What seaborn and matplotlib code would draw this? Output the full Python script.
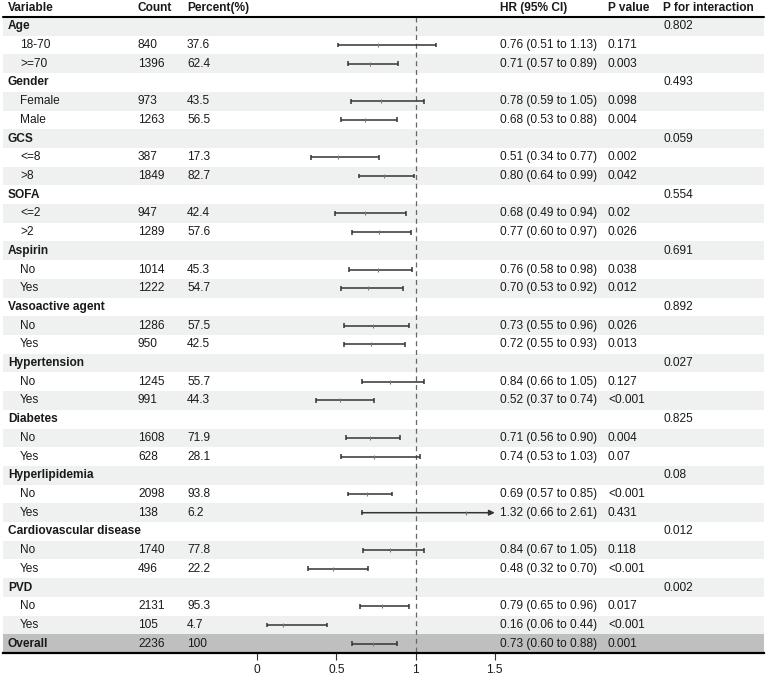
import matplotlib
matplotlib.use("Agg")
import matplotlib.pyplot as plt
import pandas as pd
import seaborn as sns

# subgroup table, one entry per displayed row
groups = ["Age", "Gender", "GCS", "SOFA", "Aspirin", "Vasoactive agent", "Hypertension",
          "Diabetes", "Hyperlipidemia", "Cardiovascular disease", "PVD"]
p_interaction = ["0.802", "0.493", "0.059", "0.554", "0.691", "0.892", "0.027",
                 "0.825", "0.08", "0.012", "0.002"]
levels = [["18-70", ">=70"], ["Female", "Male"], ["<=8", ">8"], ["<=2", ">2"], ["No", "Yes"],
          ["No", "Yes"], ["No", "Yes"], ["No", "Yes"], ["No", "Yes"], ["No", "Yes"], ["No", "Yes"]]
counts = [[840, 1396], [973, 1263], [387, 1849], [947, 1289], [1014, 1222], [1286, 950],
          [1245, 991], [1608, 628], [2098, 138], [1740, 496], [2131, 105]]
percents = [["37.6", "62.4"], ["43.5", "56.5"], ["17.3", "82.7"], ["42.4", "57.6"], ["45.3", "54.7"],
            ["57.5", "42.5"], ["55.7", "44.3"], ["71.9", "28.1"], ["93.8", "6.2"], ["77.8", "22.2"],
            ["95.3", "4.7"]]
hr = [[0.76, 0.71], [0.78, 0.68], [0.51, 0.80], [0.68, 0.77], [0.76, 0.70], [0.73, 0.72],
      [0.84, 0.52], [0.71, 0.74], [0.69, 1.32], [0.84, 0.48], [0.79, 0.16]]
ci_low = [[0.51, 0.57], [0.59, 0.53], [0.34, 0.64], [0.49, 0.60], [0.58, 0.53], [0.55, 0.55],
          [0.66, 0.37], [0.56, 0.53], [0.57, 0.66], [0.67, 0.32], [0.65, 0.06]]
ci_high = [[1.13, 0.89], [1.05, 0.88], [0.77, 0.99], [0.94, 0.97], [0.98, 0.92], [0.96, 0.93],
           [1.05, 0.74], [0.90, 1.03], [0.85, 2.61], [1.05, 0.70], [0.96, 0.44]]
p_values = [["0.171", "0.003"], ["0.098", "0.004"], ["0.002", "0.042"], ["0.02", "0.026"],
            ["0.038", "0.012"], ["0.026", "0.013"], ["0.127", "<0.001"], ["0.004", "0.07"],
            ["<0.001", "0.431"], ["0.118", "<0.001"], ["0.017", "<0.001"]]
overall = {"count": 2236, "percent": "100", "hr": 0.73, "lo": 0.60, "hi": 0.88, "p": "0.001"}
x_ticks = [0, 0.5, 1, 1.5]
x_cap = 1.5

rows = []
for i, g in enumerate(groups):
    rows.append(dict(label=g, kind="group", pint=p_interaction[i]))
    for j, lv in enumerate(levels[i]):
        rows.append(dict(label=lv, kind="level", count=counts[i][j], pct=percents[i][j],
                         hr=hr[i][j], lo=ci_low[i][j], hi=ci_high[i][j], p=p_values[i][j]))
rows.append(dict(label="Overall", kind="overall", count=overall["count"], pct=overall["percent"],
                 hr=overall["hr"], lo=overall["lo"], hi=overall["hi"], p=overall["p"]))
df = pd.DataFrame(rows)
df["row"] = range(len(df))

sns.set_theme(style="white")
plt.rcParams["font.family"] = ["Liberation Sans", "DejaVu Sans"]
txt_color = "#1a1a1a"
fs = 8.6

W, H = 767, 675
fig = plt.figure(figsize=(W / 100, H / 100), dpi=100)
ax = fig.add_axes([0, 22 / H, 1, 653 / H])
zero_px, unit_px = 257.3, 158.3
ax.set_xlim(-zero_px / unit_px, (W - zero_px) / unit_px)
n = len(df)
ax.set_ylim(n - 0.5, -0.5 - 17 / 18.7)

tx = ax.get_yaxis_transform()

# row shading
for r in df["row"]:
    if df.loc[r, "kind"] == "overall":
        ax.axhspan(r - 0.5, r + 0.5, xmin=3 / W, xmax=764 / W, color="#bfbfbf", lw=0, zorder=0)
    elif r % 2 == 0:
        ax.axhspan(r - 0.5, r + 0.5, xmin=3 / W, xmax=764 / W, color="#eef1f0", lw=0, zorder=0)

# header
cols = {"Variable": 8, "Count": 138, "Percent(%)": 187, "HR (95% CI)": 500,
        "P value": 608, "P for interaction": 663}
for name, px in cols.items():
    ax.text(px / W, -0.98, name, transform=tx, ha="left", va="center", fontsize=fs,
            fontweight="bold", color=txt_color)
ax.plot([3 / W, 764 / W], [-0.5, -0.5], transform=tx, color="black", lw=1.5, zorder=3)

# reference line
ax.vlines(1, -0.5, n - 0.5, colors="#666666", linestyles=(0, (4, 3)), lw=0.9, zorder=1)

# table text
for _, r in df.iterrows():
    y = r["row"]
    bold = r["kind"] in ("group", "overall")
    ax.text((8 if bold else 20) / W, y, r["label"], transform=tx, ha="left", va="center",
            fontsize=fs, fontweight="bold" if bold else "normal", color=txt_color)
    if r["kind"] == "group":
        ax.text(663 / W, y, r["pint"], transform=tx, ha="left", va="center", fontsize=fs, color=txt_color)
        continue
    ax.text(138 / W, y, f"{int(r['count'])}", transform=tx, ha="left", va="center", fontsize=fs, color=txt_color)
    ax.text(187 / W, y, r["pct"], transform=tx, ha="left", va="center", fontsize=fs, color=txt_color)
    ax.text(500 / W, y, f"{r['hr']:.2f} ({r['lo']:.2f} to {r['hi']:.2f})", transform=tx,
            ha="left", va="center", fontsize=fs, color=txt_color)
    ax.text(608 / W, y, r["p"], transform=tx, ha="left", va="center", fontsize=fs, color=txt_color)

# confidence intervals
est = df[df["kind"] != "group"].copy()
line_c = "#333333"
inside = est[est["hi"] <= x_cap]
ax.hlines(inside["row"], inside["lo"], inside["hi"], colors=line_c, lw=1.1, zorder=2)
ax.vlines(inside["hi"], inside["row"] - 0.13, inside["row"] + 0.13, colors=line_c, lw=1.1, zorder=2)
ax.vlines(est["lo"], est["row"] - 0.13, est["row"] + 0.13, colors=line_c, lw=1.1, zorder=2)
for _, r in est[est["hi"] > x_cap].iterrows():
    ax.annotate("", xy=(x_cap, r["row"]), xytext=(r["lo"], r["row"]),
                arrowprops=dict(arrowstyle="-|>", color=line_c, lw=1.1, mutation_scale=8,
                                shrinkA=0, shrinkB=0), zorder=2)
sns.scatterplot(data=est, x="hr", y="row", marker="|", s=12, color="#777777",
                linewidth=0.8, ax=ax, zorder=3, legend=False)

# axis
ax.set_xlabel("")
ax.set_ylabel("")
ax.set_yticks([])
ax.set_xticks(x_ticks)
ax.set_xticklabels(["0", "0.5", "1", "1.5"], fontsize=fs, color=txt_color)
ax.tick_params(axis="x", direction="out", length=5, width=0.8, color="#333333", pad=3, bottom=True)
for s in ["top", "left", "right"]:
    ax.spines[s].set_visible(False)
ax.spines["bottom"].set_bounds(-zero_px / unit_px + 3 / unit_px, -zero_px / unit_px + 764 / unit_px)
ax.spines["bottom"].set_linewidth(1.6)
ax.spines["bottom"].set_color("black")
ax.grid(False)

fig.savefig("out.png", dpi=100)
